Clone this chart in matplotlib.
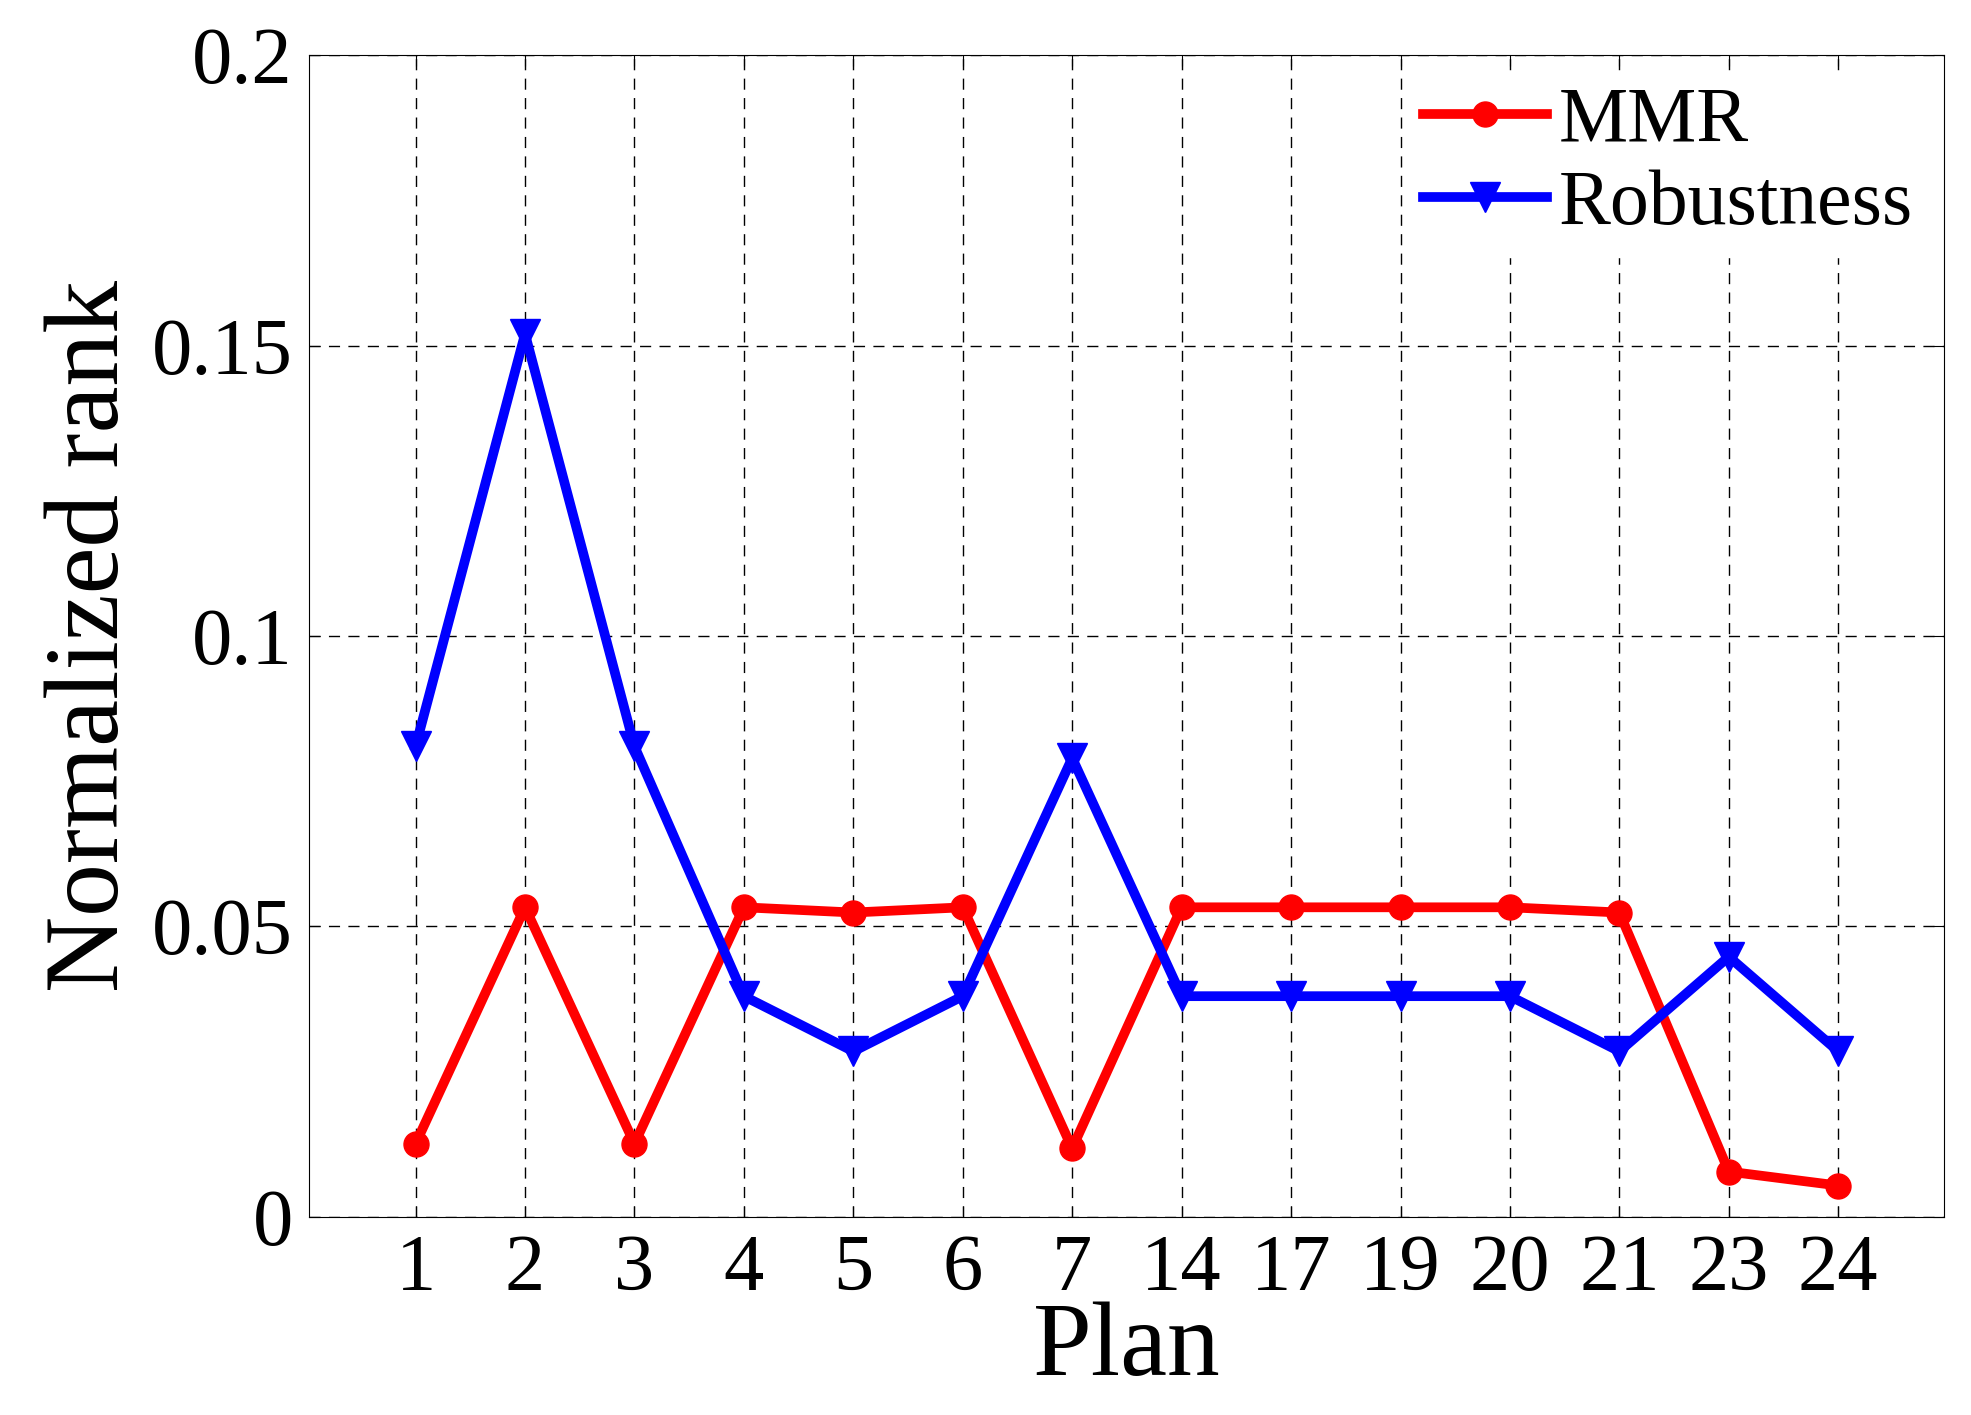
import matplotlib
matplotlib.use("Agg")
import matplotlib.pyplot as plt

plans = ["1","2","3","4","5","6","7","14","17","19","20","21","23","24"]
mmr = [0.0126,0.0533,0.0126,0.0533,0.0524,0.0533,0.0118,0.0533,0.0533,0.0533,0.0533,0.0524,0.0078,0.0054]
robust = [0.081,0.152,0.081,0.038,0.0285,0.038,0.079,0.038,0.038,0.038,0.038,0.0285,0.0448,0.0285]

plt.rcParams['font.family'] = ['Liberation Serif', 'DejaVu Serif']
fig = plt.figure(figsize=(19.71,14.15), dpi=100)
ax = fig.add_axes([0.157,0.14,0.8295,0.821])
x = list(range(len(plans)))
ax.plot(x, mmr, color='red', lw=7, marker='o', ms=18, label='MMR')
ax.plot(x, robust, color='blue', lw=7, marker='v', ms=22, label='Robustness')
ax.set_xlim(-0.97,13.97)
ax.set_ylim(0,0.2)
ax.set_xticks(x)
ax.set_xticklabels(plans)
ax.set_yticks([0,0.05,0.1,0.15,0.2])
ax.set_yticklabels(['0','0.05','0.1','0.15','0.2'])
ax.tick_params(labelsize=58, direction='in', length=8, top=True, right=True, pad=12)
ax.grid(True, color='black', linestyle=(0,(8,6)), lw=1)
ax.set_xlabel('Plan', fontsize=76, labelpad=-4)
ax.set_ylabel('Normalized rank', fontsize=76, labelpad=8)
leg = ax.legend(loc='upper right', fontsize=56, frameon=True, fancybox=False,
                edgecolor='white', handlelength=1.6, handletextpad=0.15,
                borderaxespad=0.2, labelspacing=0.15, borderpad=0.2)
leg.get_frame().set_alpha(1)
fig.savefig('out.png', dpi=100)
